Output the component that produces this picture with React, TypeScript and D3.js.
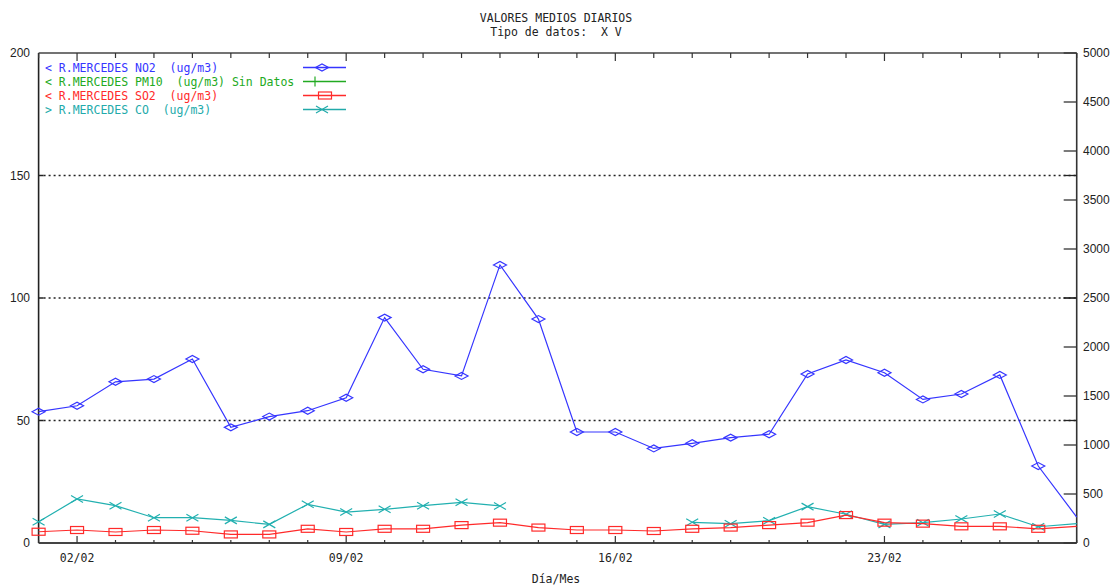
import React from "react";
import * as d3 from "d3";

const days: number[] = [1,2,3,4,5,6,7,8,9,10,11,12,13,14,15,16,17,18,19,20,21,22,23,24,25,26,27,28];
const no2: (number | null)[] = [53.6,56.0,65.8,66.9,75.1,47.2,51.6,54.0,59.3,92.0,70.9,68.2,113.5,91.4,45.3,45.3,38.6,40.7,43.0,44.4,69.0,74.7,69.5,58.6,60.8,68.6,31.4,10.6];
const so2: (number | null)[] = [4.6,5.3,4.5,5.3,5.0,3.5,3.5,5.8,4.5,5.8,5.8,7.3,8.3,6.3,5.3,5.3,4.9,5.8,6.3,7.3,8.3,11.4,8.3,7.9,6.8,6.8,5.8,6.8];
const co: (number | null)[] = [217,449,381,258,258,231,190,395,316,344,381,415,378,null,null,null,null,211,197,228,371,293,190,207,245,296,166,197];
const majorDays: number[] = [2, 9, 16, 23];
const majorLabels: string[] = ["02/02", "09/02", "16/02", "23/02"];
const leftTicks: number[] = [0, 50, 100, 150, 200];
const rightTicks: number[] = [0, 500, 1000, 1500, 2000, 2500, 3000, 3500, 4000, 4500, 5000];
const gridValues: number[] = [50, 100, 150];
const legendItems = [
  { text: "< R.MERCEDES NO2  (ug/m3)", color: "#3535ff", marker: "diamond" },
  { text: "< R.MERCEDES PM10  (ug/m3) Sin Datos", color: "#22aa22", marker: "plus" },
  { text: "< R.MERCEDES SO2  (ug/m3)", color: "#ff2a2a", marker: "square" },
  { text: "> R.MERCEDES CO  (ug/m3)", color: "#22aaaa", marker: "cross" },
];

const W = 1113, H = 585;
const X0 = 38.6, X1 = 1076.7, YT = 53, YB = 543;
const mono = "'DejaVu Sans Mono', monospace";
const sans = "'Liberation Sans', Arial, sans-serif";

function Marker({ kind, x, y, color }: { kind: string; x: number; y: number; color: string }) {
  if (kind === "diamond")
    return <path d={`M${x - 6.5},${y}L${x},${y - 3.5}L${x + 6.5},${y}L${x},${y + 3.5}Z`} fill="none" stroke={color} strokeWidth={1.2} />;
  if (kind === "square")
    return <rect x={x - 6.5} y={y - 3.5} width={13} height={7} fill="none" stroke={color} strokeWidth={1.2} />;
  if (kind === "cross")
    return <path d={`M${x - 6},${y - 3.5}L${x + 6},${y + 3.5}M${x - 6},${y + 3.5}L${x + 6},${y - 3.5}`} fill="none" stroke={color} strokeWidth={1.2} />;
  return <path d={`M${x},${y - 5}L${x},${y + 5}`} stroke={color} strokeWidth={1.2} />;
}

export default function App() {
  const x = d3.scaleLinear().domain([1, 28]).range([X0, X1]);
  const yL = d3.scaleLinear().domain([0, 200]).range([YB, YT]);
  const yR = d3.scaleLinear().domain([0, 5000]).range([YB, YT]);

  const mk = (vals: (number | null)[], sc: d3.ScaleLinear<number, number>) =>
    d3.line<number>()
      .defined((_, i) => vals[i] != null)
      .x((d) => x(d))
      .y((_, i) => sc(vals[i] as number))(days) || "";

  const series = [
    { vals: no2, sc: yL, color: "#3535ff", marker: "diamond" },
    { vals: co, sc: yR, color: "#22b0b0", marker: "cross" },
    { vals: so2, sc: yL, color: "#ff2a2a", marker: "square" },
  ];

  return (
    <svg width={W} height={H} style={{ position: "absolute", left: 0, top: 0, background: "#fff" }}>
      <rect width={W} height={H} fill="#fff" />
      <text x={556} y={22} textAnchor="middle" fontFamily={mono} fontSize={11.5} fill="#222">VALORES MEDIOS DIARIOS</text>
      <text x={556} y={36} textAnchor="middle" fontFamily={mono} fontSize={11.5} fill="#222" style={{ whiteSpace: "pre" }}>{"Tipo de datos:  X V"}</text>

      {/* grid */}
      {gridValues.map((v) => (
        <g key={v}>
          <line x1={X0} x2={X0 + 5} y1={yL(v)} y2={yL(v)} stroke="#222" strokeWidth={1.5} />
          <line x1={X0 + 5} x2={X1} y1={yL(v)} y2={yL(v)} stroke="#222" strokeWidth={1.3} strokeDasharray="2,3" />
        </g>
      ))}

      {/* frame */}
      <line x1={X0} x2={X0} y1={YT} y2={YB} stroke="#222" strokeWidth={1.6} />
      <line x1={X1} x2={X1} y1={YT} y2={YB} stroke="#333" strokeWidth={1.6} />
      <line x1={X0} x2={X1} y1={YT} y2={YT} stroke="#444" strokeWidth={1.6} />
      <line x1={X0} x2={X1} y1={YB} y2={YB} stroke="#444" strokeWidth={1.8} />

      {/* x ticks */}
      {days.map((d) => {
        const major = majorDays.includes(d);
        return (
          <g key={d}>
            <line x1={x(d)} x2={x(d)} y1={YB} y2={YB - (major ? 7 : 3)} stroke="#333" strokeWidth={1.2} />
            <line x1={x(d)} x2={x(d)} y1={YT} y2={YT + (major ? 8 : 5)} stroke="#333" strokeWidth={1.2} />
          </g>
        );
      })}
      {majorDays.map((d, i) => (
        <text key={d} x={x(d)} y={562} textAnchor="middle" fontFamily={mono} fontSize={11.5} fill="#222">{majorLabels[i]}</text>
      ))}
      <text x={556} y={583} textAnchor="middle" fontFamily={mono} fontSize={11.5} fill="#222">Día/Mes</text>

      {/* left labels */}
      {leftTicks.map((v) => (
        <text key={v} x={30} y={yL(v) + 4} textAnchor="end" fontFamily={sans} fontSize={12} fill="#222">{v}</text>
      ))}
      {/* right ticks */}
      {rightTicks.map((v) => (
        <g key={v}>
          <line x1={X1 - 13} x2={X1} y1={yR(v)} y2={yR(v)} stroke="#333" strokeWidth={1.3} />
          <text x={1083} y={yR(v) + 4} fontFamily={sans} fontSize={12} fill="#222">{v}</text>
        </g>
      ))}
      {gridValues.map((v) => (
        <line key={"r" + v} x1={X1 - 13} x2={X1} y1={yL(v)} y2={yL(v)} stroke="#222" strokeWidth={1.3} />
      ))}

      {/* series */}
      {series.map((s, si) => (
        <g key={si}>
          <path d={mk(s.vals, s.sc)} fill="none" stroke={s.color} strokeWidth={1.2} />
          {days.map((d, i) =>
            s.vals[i] != null && d < 28 ? (
              <Marker key={i} kind={s.marker} x={x(d)} y={s.sc(s.vals[i] as number)} color={s.color} />
            ) : null
          )}
        </g>
      ))}

      {/* legend */}
      {legendItems.map((it, i) => {
        const yy = 67.5 + i * 14;
        return (
          <g key={i}>
            <text x={45} y={yy + 4} fontFamily={mono} fontSize={11.5} fill={it.color} style={{ whiteSpace: "pre" }}>{it.text}</text>
            <line x1={303} x2={346} y1={yy} y2={yy} stroke={it.color} strokeWidth={1.6} />
            <Marker kind={it.marker} x={it.marker === "plus" ? 315 : it.marker === "square" ? 325 : 322} y={yy} color={it.color} />
          </g>
        );
      })}
    </svg>
  );
}
